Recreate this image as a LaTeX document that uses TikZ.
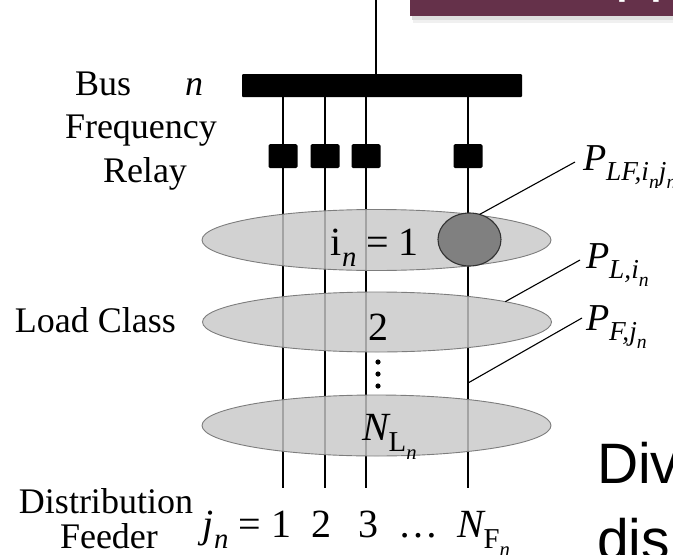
\documentclass[tikz,border=0pt]{standalone}
\usepackage{fontspec}
\usepackage{graphicx}
\setmainfont{Liberation Serif}
\newfontfamily\slidefont{Liberation Sans}
\usetikzlibrary{shapes.geometric}

\definecolor{hdr}{RGB}{101,49,74}
\definecolor{lcfill}{RGB}{200,200,200}
\definecolor{lcline}{RGB}{125,125,125}
\definecolor{lffill}{RGB}{128,128,128}
\definecolor{lfline}{RGB}{50,50,50}

% lowered, shrunk subscript built from text fonts
\newcommand\lowsub[1]{\raisebox{-0.28em}{\scalebox{0.72}{#1}}}

\begin{document}
\begin{tikzpicture}[x=1pt,y=-1pt,
  every node/.style={inner sep=0pt, outer sep=0pt},
  feeder/.style={line width=2.7pt},
  relaybox/.style={fill=black, minimum width=29pt, minimum height=24pt, rounded corners=1.5pt},
  loadclass/.style={ellipse, fill=lcfill, fill opacity=0.82, draw=lcline, line width=0.9pt,
                    minimum width=349pt, minimum height=61pt},
  leader/.style={line width=1.1pt},
  txt/.style={anchor=base west, font=\fontsize{36}{40}\selectfont},
  sym/.style={anchor=base, font=\fontsize{40}{44}\selectfont},
  plbl/.style={anchor=base west, font=\fontsize{38}{42}\selectfont},
  slide/.style={anchor=base west, font=\slidefont\fontsize{57}{70}\selectfont},
]
\useasboundingbox (0,0) rectangle (673,555);

% slide header strip with its shadow
\fill[black,opacity=0.13] (412,15) rectangle (673,19.5);
\fill[black,opacity=0.06] (413,19.5) rectangle (673,23);
\fill[hdr] (410,-2) rectangle (673,16);
\node[anchor=base west, text=white, font=\slidefont\fontsize{62}{70}\selectfont] (hdrtxt) at (615,-11) {pp};

% slide body text
\node[slide] (divtxt) at (597,483) {Div};
\node[slide] (distxt) at (597,559) {dis};

% bus bar and incoming line
\coordinate (top) at (376,0);
\node[fill=black, minimum width=280pt, minimum height=23pt, rounded corners=1pt] (bus) at (382,85.5) {};
\draw[feeder] (top) -- (top |- bus.north);

% distribution feeders
\coordinate (f1) at (283,488);
\coordinate (f2) at (325,488);
\coordinate (f3) at (366,488);
\coordinate (f4) at (468,488);
\foreach \f in {f1,f2,f3,f4}
  \draw[feeder] (\f |- bus.south) -- (\f);

% frequency relays
\node[relaybox] (r1) at (283,156) {};
\node[relaybox] (r2) at (325,156) {};
\node[relaybox] (r3) at (366,156) {};
\node[relaybox] (r4) at (468,156) {};

% load classes
\node[loadclass] (lc1) at (376.5,240) {};
\node[loadclass, minimum height=60pt] (lc2) at (377,322) {};
\node[loadclass] (lc3) at (376.5,425.5) {};

% load of one class on one feeder
\node[ellipse, fill=lffill, draw=lfline, line width=1.1pt,
      minimum width=63pt, minimum height=53pt] (lf) at (469.5,239.5) {};

% vertical ellipsis between classes
\foreach \y in {362,374,386}
  \fill (378,\y) circle[radius=2.6pt];

% labels inside the classes
\node[sym] (i1) at (375,255) {i\lowsub{\itshape n} = 1};
\node[sym] (two) at (378,340) {2};
\node[sym, anchor=base west] (nl) at (362,440) {{\itshape N}\lowsub{L\lowsub{\itshape n}}};

% power labels and their leaders
\node[plbl] (plf) at (583,170) {\itshape P\lowsub{LF,i\lowsub{n}j\lowsub{n}}};
\node[plbl] (pl) at (586,268) {\itshape P\lowsub{L,i\lowsub{n}}};
\node[plbl] (pf) at (586,330) {\itshape P\lowsub{F,j\lowsub{n}}};
\coordinate (plfEnd) at (575,162);
\coordinate (plEnd) at (580,260);
\coordinate (pfEnd) at (582,318);
\coordinate (pfStart) at (468,383);
\draw[leader] (lf.68) -- (plfEnd);
\draw[leader] (lc2.9) -- (plEnd);
\draw[leader] (pfStart) -- (pfEnd);

% left-hand captions
\node[txt] (buslbl) at (75,95) {Bus};
\node[txt] (busn) at (185,95) {\itshape n};
\node[txt] (freq) at (65,138) {Frequency};
\node[txt] (relay) at (103,182) {Relay};
\node[txt] (load) at (15,332) {Load Class};
\node[txt] (dist) at (19,513) {Distribution};
\node[txt] (feed) at (60,548) {Feeder};

% feeder numbering
\node[sym, anchor=base east] (jn) at (261,537) {{\itshape j}\lowsub{\itshape n} =};
\node[sym] (n1) at (281,537) {1};
\node[sym] (n2) at (321,537) {2};
\node[sym] (n3) at (368,537) {3};
\node[sym] (ndots) at (418,537) {\textellipsis};
\node[sym, anchor=base west] (nf) at (457,537) {{\itshape N}\lowsub{F\lowsub{\itshape n}}};
\end{tikzpicture}
\end{document}
